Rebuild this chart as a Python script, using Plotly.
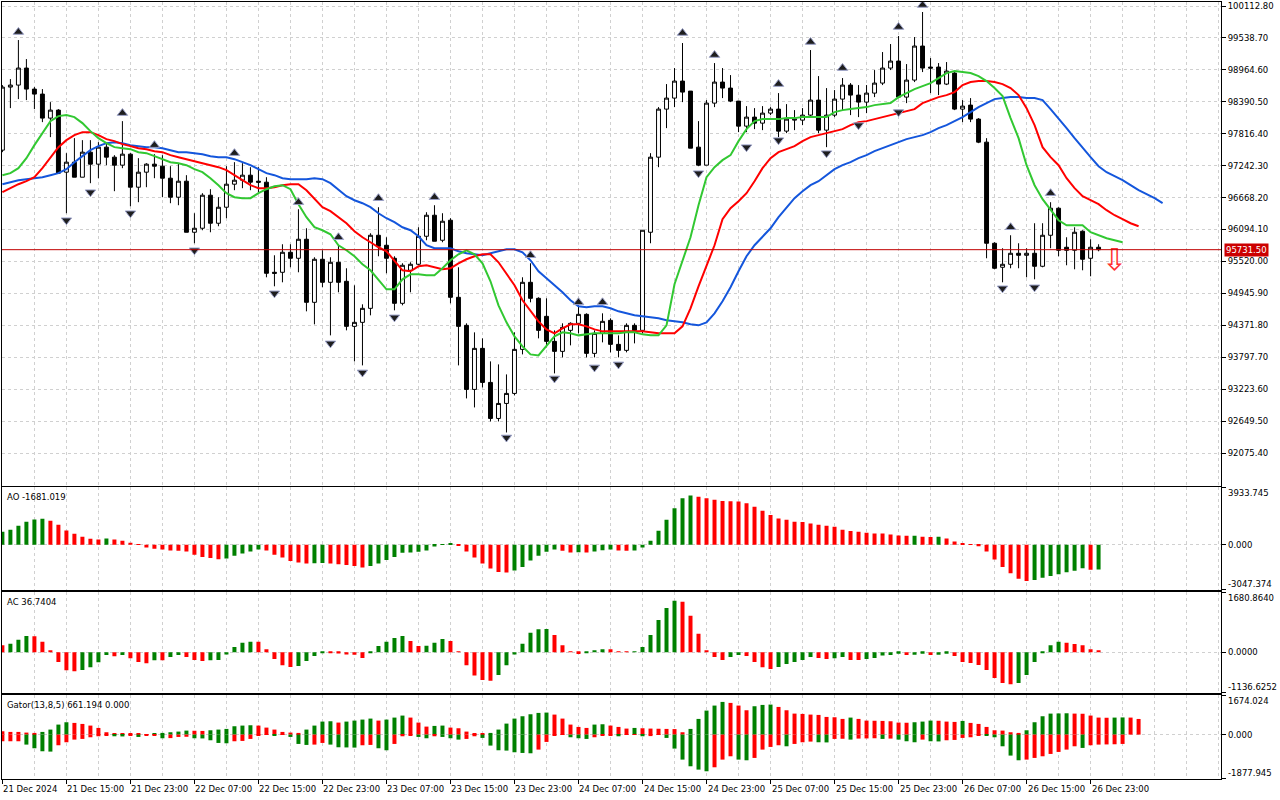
import plotly.graph_objects as go

# ---------------- data (BTCUSD H1, 21 Dec 07:00 .. 27 Dec 00:00) ----------------
opens = [
    97521, 98655, 98691, 98997, 98619, 98529, 98097, 98241, 97125, 97305,
    97035, 97485, 97269, 97575, 97395, 97251, 97449, 96855, 97125, 97269,
    97233, 97017, 96675, 96963, 96045, 96117, 96711, 96207, 96495, 96909,
    96981, 97071, 96963, 96945, 95325, 95325, 95685, 95577, 95919, 94785,
    95559, 95145, 95505, 95163, 94353, 94425, 94677, 95991, 95811, 95577,
    94767, 95361, 95469, 95973, 96351, 95901, 96261, 94875, 94371, 93219,
    93957, 93345, 92697, 92967, 93147, 93939, 95145, 94857, 94533, 94083,
    93903, 94281, 94407, 94569, 93867, 94227, 94461, 94029, 93921, 94371,
    94281, 96045, 97395, 98259, 98457, 98763, 98583, 97575, 97251, 98367,
    98745, 98637, 98403, 97953, 98115, 98007, 98187, 98259, 97863, 98061,
    98061, 98151, 98421, 97881, 98151, 98439, 98691, 98511, 98385, 98547,
    98727, 98997, 99123, 98475, 98781, 99393, 99015, 99015, 98709, 98907,
    98259, 98331, 98079, 97665, 95847, 95415, 95469, 95667, 95631, 95667,
    95433, 95991, 96477, 95775, 95721, 96063, 95577, 95775,
]
highs = [
    98691, 98799, 99501, 99159, 98655, 98619, 98385, 98259, 97467, 97737,
    97701, 97701, 97665, 97647, 97431, 98043, 97467, 97377, 97287, 97449,
    97431, 97233, 97287, 97071, 96387, 96747, 96819, 96675, 97233, 97305,
    97287, 97215, 97215, 97035, 95631, 95829, 95829, 96459, 96117, 95595,
    95721, 95595, 95811, 95397, 95091, 94749, 96027, 96495, 95955, 95613,
    95487, 95505, 96135, 96405, 96531, 96387, 96297, 95415, 94407, 94245,
    94137, 93723, 93669, 93489, 94245, 95235, 95487, 94875, 94857, 94281,
    94407, 94425, 94731, 94587, 94281, 94587, 94497, 94191, 94407, 94407,
    96081, 97467, 98295, 98709, 98997, 99447, 98583, 98043, 98421, 99087,
    98997, 98871, 98403, 98313, 98277, 98313, 98295, 98547, 98349, 98241,
    98277, 99321, 98853, 98637, 98601, 98817, 98727, 98691, 98691, 98961,
    99285, 99429, 99573, 99069, 99555, 100005, 99177, 99087, 99105, 98925,
    98421, 98457, 98097, 97737, 95865, 95757, 95991, 95847, 95757, 96207,
    96207, 96585, 96495, 95955, 96135, 96081, 95919, 95829,
]
lows = [
    97485, 98277, 98439, 98421, 98259, 98025, 97755, 97107, 96387, 97035,
    97035, 96927, 97017, 97251, 96783, 97197, 96513, 96585, 96855, 97017,
    96675, 96567, 96531, 96045, 95847, 96081, 96045, 96153, 96297, 96801,
    96837, 96801, 96765, 95235, 95073, 95145, 95415, 95325, 94623, 94389,
    95055, 94191, 94965, 94281, 93723, 93651, 94551, 95613, 95307, 94641,
    94731, 94965, 95451, 95901, 95883, 95865, 94767, 93651, 93057, 92895,
    93255, 92643, 92643, 92445, 93111, 93849, 94785, 94137, 93975, 93507,
    93795, 94011, 94227, 93795, 93795, 94065, 93885, 93795, 93885, 94047,
    94227, 95847, 97215, 97917, 98295, 98385, 97557, 97233, 97251, 98295,
    98457, 98385, 97845, 97845, 97899, 97881, 98151, 97755, 97827, 97881,
    97971, 98133, 97827, 97575, 98115, 98241, 98151, 98115, 98187, 98475,
    98691, 98961, 98457, 98367, 98745, 98925, 98547, 98511, 98691, 98241,
    98025, 98025, 97647, 95577, 95379, 95145, 95397, 95397, 95235, 95199,
    95415, 95757, 95613, 95451, 95379, 95361, 95253, 95703,
]
closes = [
    98655, 98691, 98997, 98619, 98529, 98097, 98241, 97107, 97305, 97035,
    97485, 97269, 97575, 97395, 97251, 97449, 96855, 97125, 97269, 97233,
    97017, 96675, 96963, 96045, 96117, 96711, 96207, 96495, 96909, 96981,
    97071, 96945, 96945, 95307, 95307, 95685, 95577, 95919, 94785, 95559,
    95145, 95505, 95145, 94353, 94425, 94677, 95991, 95793, 95577, 94767,
    95451, 95469, 95973, 96351, 95883, 96243, 94875, 94353, 93219, 93957,
    93345, 92697, 92967, 93147, 93939, 95145, 94857, 94281, 94083, 93903,
    94335, 94407, 94569, 93867, 94227, 94443, 94029, 93921, 94371, 94281,
    96081, 97395, 98259, 98457, 98763, 98565, 97557, 97251, 98367, 98745,
    98637, 98403, 97953, 98115, 98007, 98187, 98259, 97863, 98079, 98079,
    98151, 98421, 97881, 98151, 98439, 98691, 98511, 98385, 98547, 98727,
    98997, 99123, 98475, 98781, 99393, 98997, 98997, 98709, 98943, 98259,
    98313, 98079, 97665, 95847, 95397, 95469, 95667, 95631, 95667, 95433,
    95991, 96477, 95721, 95721, 96045, 95559, 95775, 95731.5,
]

# Alligator lines as drawn (already shifted forward by 8 / 5 / 3 bars)
jaw = [
    96909, 96945, 96981, 96999, 97017, 97035, 97071, 97107, 97179, 97305,
    97413, 97521, 97593, 97647, 97665, 97647, 97611, 97593, 97575, 97575,
    97557, 97521, 97485, 97485, 97467, 97449, 97413, 97395, 97395, 97359,
    97305, 97251, 97179, 97107, 97071, 97017, 96999, 96999, 96999, 97017,
    96999, 96927, 96801, 96693, 96621, 96567, 96495, 96387, 96297, 96225,
    96135, 96081, 95973, 95811, 95757, 95757, 95757, 95703, 95667, 95649,
    95631, 95667, 95703, 95739, 95739, 95685, 95541, 95343, 95217, 95091,
    94965, 94821, 94713, 94695, 94713, 94713, 94677, 94623, 94587, 94551,
    94533, 94515, 94497, 94461, 94443, 94425, 94389, 94371, 94425, 94587,
    94803, 95055, 95343, 95613, 95811, 95973, 96117, 96315, 96495, 96657,
    96783, 96891, 96963, 97071, 97179, 97251, 97305, 97377, 97431, 97503,
    97557, 97611, 97665, 97719, 97755, 97791, 97845, 97917, 97971, 98043,
    98115, 98205, 98295, 98367, 98439, 98457, 98475, 98475, 98457, 98457,
    98421, 98259, 98097, 97917, 97737, 97557, 97395, 97233, 97125, 97053,
    96981, 96891, 96801, 96729, 96657, 96567,
]
teeth = [
    96765, 96837, 96909, 96963, 97035, 97197, 97395, 97575, 97701, 97791,
    97845, 97845, 97791, 97719, 97683, 97629, 97593, 97557, 97539, 97503,
    97485, 97431, 97395, 97359, 97323, 97287, 97251, 97215, 97161, 97071,
    96981, 96891, 96837, 96837, 96855, 96891, 96909, 96909, 96801, 96639,
    96495, 96423, 96315, 96207, 96063, 95955, 95865, 95775, 95703, 95523,
    95361, 95343, 95433, 95451, 95415, 95379, 95397, 95487, 95559, 95613,
    95649, 95649, 95505, 95307, 95091, 94821, 94623, 94443, 94299, 94227,
    94317, 94389, 94389, 94353, 94299, 94263, 94263, 94263, 94263, 94263,
    94263, 94245, 94227, 94227, 94227, 94353, 94677, 95073, 95451, 95811,
    96279, 96477, 96603, 96747, 96963, 97197, 97377, 97485, 97539, 97593,
    97683, 97755, 97791, 97827, 97863, 97899, 97971, 98025, 98043, 98079,
    98115, 98151, 98187, 98223, 98259, 98367, 98421, 98475, 98511, 98565,
    98691, 98745, 98763, 98763, 98745, 98709, 98637, 98511, 98277, 97971,
    97575, 97395, 97251, 97017, 96837, 96693, 96621, 96549, 96441, 96351,
    96279, 96207, 96153,
]
lips = [
    97071, 97107, 97197, 97377, 97611, 97827, 98043, 98133, 98151, 98115,
    98007, 97863, 97737, 97647, 97575, 97557, 97539, 97485, 97467, 97413,
    97359, 97305, 97287, 97251, 97179, 97125, 97017, 96891, 96747, 96675,
    96657, 96657, 96747, 96819, 96873, 96891, 96819, 96549, 96315, 96135,
    96081, 96009, 95811, 95721, 95613, 95469, 95361, 95181, 95019, 95019,
    95199, 95289, 95289, 95271, 95271, 95397, 95541, 95649, 95721, 95649,
    95487, 95163, 94731, 94425, 94173, 93993, 93849, 93831, 94011, 94173,
    94245, 94227, 94191, 94209, 94227, 94227, 94227, 94227, 94245, 94245,
    94209, 94191, 94191, 94371, 95109, 95523, 95955, 96531, 97035, 97215,
    97341, 97431, 97683, 97899, 98043, 98079, 98079, 98079, 98097, 98097,
    98115, 98115, 98115, 98115, 98205, 98241, 98259, 98277, 98295, 98331,
    98349, 98367, 98475, 98547, 98619, 98673, 98727, 98817, 98907, 98943,
    98925, 98907, 98853, 98763, 98637, 98493, 98097, 97737, 97251, 96891,
    96639, 96441, 96261, 96171, 96171, 96171, 96045, 95991, 95937, 95901,
    95865,
]

# Bill Williams fractals (bar index, price of the arrow)
frac_up_bar = [2, 15, 19, 29, 37, 42, 47, 54, 66, 72, 75, 85, 89, 97, 101, 105, 112, 115, 126, 131]
frac_up_price = [99645, 98187, 97611, 97467, 96585, 95955, 96657, 96675, 95631, 94785,
                 94785, 99627, 99231, 98709, 99465, 98997, 99735, 100131, 96135, 96747]
frac_dn_bar = [8, 11, 16, 24, 34, 41, 45, 49, 63, 69, 74, 77, 87, 93, 97, 103, 107, 112, 125, 129]
frac_dn_price = [96261, 96765, 96387, 95721, 94947, 94047, 93525, 94515, 92355, 93417,
                 93615, 93669, 97107, 97575, 97701, 97467, 97971, 98205, 95037, 95055]

signal_bar = [139]
signal_price = [95505]
last_price = 95731.50

ao = [
    890, 1026, 1300, 1573, 1733, 1778, 1642, 1368, 980, 752,
    547, 410, 365, 433, 365, 274, 137, -10, -182, -274,
    -320, -388, -410, -456, -684, -821, -890, -980, -935, -752,
    -593, -456, -320, -388, -684, -866, -1094, -1208, -1277, -1260,
    -1231, -1277, -1322, -1368, -1436, -1550, -1436, -1277, -1026, -821,
    -547, -524, -479, -388, -114, 46, 114, -46, -456, -866,
    -1277, -1619, -1847, -1892, -1756, -1505, -1072, -752, -479, -320,
    -410, -524, -500, -524, -456, -365, -320, -388, -400, -380,
    -182, 274, 958, 1710, 2485, 3169, 3352, 3283, 3169, 3078,
    2990, 2975, 2960, 2827, 2599, 2326, 2029, 1801, 1710, 1573,
    1560, 1459, 1368, 1300, 1231, 1026, 935, 889, 821, 775,
    770, 707, 630, 615, 625, 547, 540, 550, 433, 228,
    68, -10, -91, -456, -1003, -1505, -1938, -2303, -2462, -2394,
    -2234, -2120, -2006, -1870, -1760, -1600, -1700, -1681.019,
]
ac = [
    198, 236, 349, 453, 445, 293, 38, -274, -510, -538,
    -500, -425, -283, -76, -113, -76, -170, -274, -311, -227,
    -230, -132, -76, -132, -217, -245, -227, -217, -66, 142,
    264, 293, 290, 85, -189, -368, -415, -387, -245, -104,
    -19, -25, -38, -66, -70, -160, -19, 170, 293, 396,
    453, 311, 170, 180, 264, 368, 311, 19, -368, -651,
    -783, -802, -642, -368, -66, 236, 547, 642, 650, 480,
    198, 19, -50, -30, 28, 85, 80, 10, 5, 15,
    142, 481, 906, 1237, 1444, 1416, 1020, 519, 57, -132,
    -217, -132, -76, -104, -274, -425, -472, -415, -330, -274,
    -217, -132, -160, -189, -170, -132, -217, -220, -189, -160,
    -94, -76, -47, -76, -70, -47, -76, -70, -47, -104,
    -274, -302, -359, -500, -727, -868, -897, -868, -642, -274,
    -10, 198, 293, 264, 227, 198, 85, 36.7404,
]
gator_up = [
    141, 113, 113, 85, 71, 113, 212, 423, 522, 494,
    451, 381, 282, 99, 56, 42, 35, 28, 21, 56,
    71, 99, 127, 169, 162, 155, 183, 212, 240, 353,
    381, 395, 381, 296, 212, 113, 85, 71, 212, 381,
    550, 564, 508, 550, 592, 635, 677, 592, 635, 719,
    804, 719, 508, 338, 367, 381, 296, 268, 127, 56,
    28, 71, 212, 465, 677, 776, 860, 917, 931, 846,
    677, 423, 324, 282, 423, 437, 381, 324, 254, 282,
    268, 254, 247, 240, 233, 99, 240, 663, 1015, 1227,
    1382, 1340, 1227, 1029, 1199, 1255, 1269, 1170, 1029, 888,
    874, 846, 832, 747, 733, 663, 719, 663, 592, 585,
    578, 564, 508, 501, 522, 550, 592, 585, 550, 536,
    578, 494, 451, 324, 183, 169, 99, 71, 183, 522,
    776, 888, 895, 902, 888, 881, 804, 719, 712, 719,
    726, 719, 661.194,
]
gator_dn = [
    -282, -282, -282, -423, -578, -705, -719, -451, -324, -212,
    -183, -113, -71, -42, -71, -78, -42, -99, -42, -35,
    -155, -148, -99, -92, -155, -162, -240, -353, -367, -282,
    -268, -183, -28, -14, -21, -14, -99, -395, -437, -423,
    -353, -423, -536, -543, -550, -451, -437, -578, -663, -395,
    -71, -28, -99, -155, -71, -99, -155, -212, -183, -71,
    -141, -465, -663, -677, -747, -776, -790, -635, -310, -28,
    -14, -113, -155, -183, -113, -28, -21, -71, -14, -7,
    -71, -63, -14, -141, -592, -1058, -1340, -1481, -1551, -1382,
    -1058, -917, -1058, -1086, -987, -635, -522, -451, -494, -395,
    -324, -296, -324, -331, -183, -176, -212, -169, -162, -155,
    -183, -169, -212, -282, -324, -212, -282, -289, -240, -226,
    -141, -113, -28, -42, -113, -494, -888, -1086, -1058, -987,
    -917, -818, -733, -635, -494, -564, -451, -423, -416, -409,
    -395,
]

price_ticks = [92075.40, 92649.50, 93223.60, 93797.70, 94371.80, 94945.90, 95520.00, 96094.10,
               96668.20, 97242.30, 97816.40, 98390.50, 98964.60, 99538.70, 100112.80]
time_labels = ["21 Dec 2024", "21 Dec 15:00", "21 Dec 23:00", "22 Dec 07:00", "22 Dec 15:00",
               "22 Dec 23:00", "23 Dec 07:00", "23 Dec 15:00", "23 Dec 23:00", "24 Dec 07:00",
               "24 Dec 15:00", "24 Dec 23:00", "25 Dec 07:00", "25 Dec 15:00", "25 Dec 23:00",
               "26 Dec 07:00", "26 Dec 15:00", "26 Dec 23:00"]
ao_range = [-3047.374, 3933.745]
ac_range = [-1136.6252, 1680.8640]
gator_range = [-1877.945, 1674.024]

# ---------------- styling ----------------
FONT = "DejaVu Sans"
FS = 8.5
GREEN = "#008000"
RED = "#ff0000"
GRID = "#d0d0d0"


def rising_colors(vals, first, absolute=False):
    out = [first]
    for a, b in zip(vals[:-1], vals[1:]):
        if absolute:
            a, b = abs(a), abs(b)
        out.append(GREEN if b > a else RED)
    return out


bars = list(range(len(closes)))
label_bars = [i * 8 for i in range(len(time_labels))]

fig = go.Figure()

fig.add_trace(go.Candlestick(
    x=bars, open=opens, high=highs, low=lows, close=closes,
    increasing=dict(line=dict(color="black", width=1), fillcolor="white"),
    decreasing=dict(line=dict(color="black", width=1), fillcolor="black"),
    whiskerwidth=0, hoverinfo="skip", xaxis="x", yaxis="y"))

for vals, col in [(jaw, "#1456dc"), (teeth, "#ff0000"), (lips, "#32c832")]:
    fig.add_trace(go.Scatter(x=list(range(len(vals))), y=vals, mode="lines",
                             line=dict(color=col, width=2), xaxis="x", yaxis="y"))

# fractal arrowheads (centred on the arrow position)
fig.add_trace(go.Scatter(x=frac_up_bar, y=frac_up_price, mode="markers",
                         marker=dict(symbol="triangle-up", size=9, color="#1e1e1e",
                                     line=dict(color="#9aa0c8", width=1)),
                         xaxis="x", yaxis="y"))
fig.add_trace(go.Scatter(x=frac_dn_bar, y=frac_dn_price, mode="markers",
                         marker=dict(symbol="triangle-down", size=9, color="#1e1e1e",
                                     line=dict(color="#9aa0c8", width=1)),
                         xaxis="x", yaxis="y"))
# sell signal arrow
fig.add_trace(go.Scatter(x=signal_bar, y=signal_price, mode="text", text=["⇩"],
                         textfont=dict(family=FONT, size=30, color="#ff3030"),
                         xaxis="x", yaxis="y"))

fig.add_trace(go.Bar(x=bars, y=ao, marker=dict(color=rising_colors(ao, GREEN), line_width=0),
                     xaxis="x2", yaxis="y2"))
fig.add_trace(go.Bar(x=bars, y=ac, marker=dict(color=rising_colors(ac, RED), line_width=0),
                     xaxis="x3", yaxis="y3"))
fig.add_trace(go.Bar(x=list(range(len(gator_up))), y=gator_up,
                     marker=dict(color=rising_colors(gator_up, RED), line_width=0),
                     xaxis="x4", yaxis="y4"))
fig.add_trace(go.Bar(x=list(range(len(gator_dn))), y=gator_dn,
                     marker=dict(color=rising_colors(gator_dn, RED, absolute=True), line_width=0),
                     xaxis="x4", yaxis="y4"))

# panels (pixel rows 2..779 of the 800 px page)
x_range = [-0.05, 152.3]
xcommon = dict(range=x_range, showline=True, linecolor="black", linewidth=1, mirror=True,
               tickmode="array", tickvals=label_bars,
               showgrid=True, gridcolor=GRID, griddash="3px,3px",
               minor=dict(tickmode="linear", tick0=0, dtick=4, showgrid=True,
                          gridcolor=GRID, griddash="3px,3px"),
               zeroline=False, showticklabels=False, ticks="", fixedrange=True)
ycommon = dict(side="right", showline=True, linecolor="black", linewidth=1, mirror=True,
               zeroline=False, ticks="outside", ticklen=4, tickcolor="black",
               showgrid=True, gridcolor=GRID, griddash="3px,3px", fixedrange=True)

fig.update_layout(
    width=1280, height=800,
    margin=dict(l=2, r=59, t=2, b=21),
    paper_bgcolor="white", plot_bgcolor="white",
    showlegend=False, barmode="overlay", bargap=0.5, boxgap=0.3,
    font=dict(family=FONT, size=FS, color="black"),
    xaxis=dict(xcommon, anchor="y", rangeslider=dict(visible=False)),
    xaxis2=dict(xcommon, anchor="y2", matches="x"),
    xaxis3=dict(xcommon, anchor="y3", matches="x"),
    xaxis4=dict(xcommon, anchor="y4", matches="x", ticks="outside", ticklen=4, tickcolor="black"),
    yaxis=dict(ycommon, domain=[0.3775, 1.0], range=[91488, 100185],
               tickvals=price_ticks, ticktext=[f"{v:.2f}" for v in price_ticks],
               tickfont=dict(family=FONT, size=FS)),
    yaxis2=dict(ycommon, domain=[0.2438, 0.3757], range=ao_range,
                tickvals=[ao_range[0], 0, ao_range[1]], showticklabels=False),
    yaxis3=dict(ycommon, domain=[0.1111, 0.2403], range=ac_range,
                tickvals=[ac_range[0], 0, ac_range[1]], showticklabels=False),
    yaxis4=dict(ycommon, domain=[0.0, 0.1081], range=gator_range,
                tickvals=[gator_range[0], 0, gator_range[1]], showticklabels=False),
)

# current price line + label
fig.add_shape(type="line", xref="x domain", yref="y", x0=0, x1=1, y0=last_price, y1=last_price,
              line=dict(color="#c00000", width=1))
fig.add_annotation(xref="paper", yref="y", x=1, y=last_price, xanchor="left", xshift=3,
                   text=f"{last_price:.2f}", showarrow=False, bgcolor="#cc0000", borderpad=1,
                   font=dict(family=FONT, size=FS, color="white"))

# indicator value labels on the right edge
for ax, rng, fmt in [("y2", ao_range, "{:.3f}"), ("y3", ac_range, "{:.4f}"), ("y4", gator_range, "{:.3f}")]:
    fig.add_annotation(xref="paper", yref=ax, x=1, y=rng[1], xanchor="left", yanchor="top",
                       xshift=5, yshift=1, text=fmt.format(rng[1]), showarrow=False)
    fig.add_annotation(xref="paper", yref=ax, x=1, y=0, xanchor="left", yanchor="middle",
                       xshift=5, text=fmt.format(0), showarrow=False)
    fig.add_annotation(xref="paper", yref=ax, x=1, y=rng[0], xanchor="left", yanchor="bottom",
                       xshift=5, yshift=-1, text=fmt.format(rng[0]), showarrow=False)

# indicator titles
titles = [("y2", f"AO {ao[-1]:.3f}"), ("y3", f"AC {ac[-1]:.4f}"),
          ("y4", f"Gator(13,8,5) {gator_up[-1]:.3f} 0.000")]
for ax, txt in titles:
    fig.add_annotation(xref="paper", yref=f"{ax} domain", x=0, y=1, xanchor="left", yanchor="top",
                       xshift=3, yshift=-3, text=txt, showarrow=False)

# time labels start at their tick, as in the terminal
for b, lab in zip(label_bars, time_labels):
    fig.add_annotation(xref="x4", yref="paper", x=b, y=0, xanchor="left", yanchor="top",
                       xshift=-1, yshift=-3, text=lab, showarrow=False)

fig.write_html("out.html", config=dict(displayModeBar=False),
               post_script="document.body.style.margin='0';document.body.style.overflow='hidden';")
